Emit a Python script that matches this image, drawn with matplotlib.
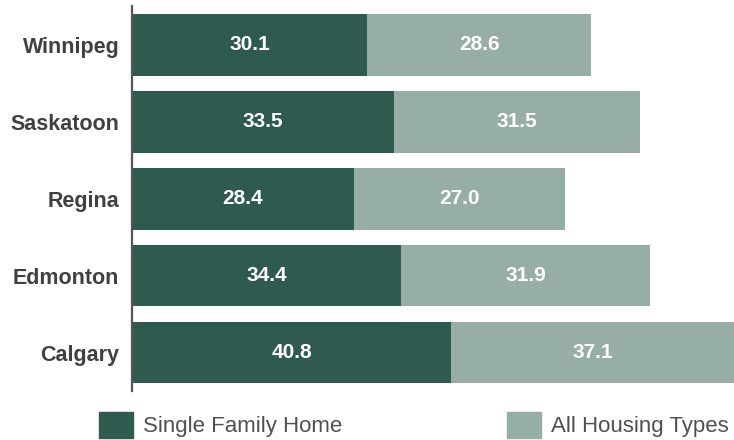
import matplotlib.pyplot as plt
from matplotlib.patches import Patch

plt.rcParams['font.family'] = ['Liberation Sans', 'DejaVu Sans']

cities = ['Winnipeg', 'Saskatoon', 'Regina', 'Edmonton', 'Calgary']
single_family = [30.1, 33.5, 28.4, 34.4, 40.8]
all_housing = [28.6, 31.5, 27.0, 31.9, 37.1]

dark = '#2e5a4f'
light = '#96aea5'

fig = plt.figure(figsize=(7.34, 4.40), dpi=100)
ax = fig.add_axes([132 / 734, 1 - 391 / 440, 1 - 132 / 734, 384.5 / 440])

y = range(len(cities))
b1 = ax.barh(y, single_family, height=0.8, color=dark)
b2 = ax.barh(y, all_housing, left=single_family, height=0.8, color=light)

for bars in (b1, b2):
    ax.bar_label(bars, labels=[f'{v:.1f}' for v in bars.datavalues],
                 label_type='center', color='white', fontsize=15, fontweight='bold')

ax.set_xlim(0, 77.0)
ax.set_ylim(len(cities) - 0.5, -0.5)
ax.set_yticks(list(y))
ax.set_yticklabels(cities, fontsize=15.5, fontweight='bold', color='#404040')
ax.tick_params(axis='y', length=0, pad=9)
ax.set_xticks([])
for side in ('top', 'right', 'bottom'):
    ax.spines[side].set_visible(False)
ax.spines['left'].set_color('#555555')
ax.spines['left'].set_linewidth(1.6)

handles = [Patch(color=dark, label='Single Family Home'),
           Patch(color=light, label='All Housing Types')]
leg = fig.legend(handles=handles, loc='lower left', bbox_to_anchor=(99 / 734, 2 / 440),
                 ncol=2, frameon=False, fontsize=16, borderpad=0, borderaxespad=0,
                 handlelength=1.53, handleheight=1.45, handletextpad=0.45,
                 columnspacing=7.4)
for t in leg.get_texts():
    t.set_color('#505050')

fig.savefig('out.png', dpi=100)
